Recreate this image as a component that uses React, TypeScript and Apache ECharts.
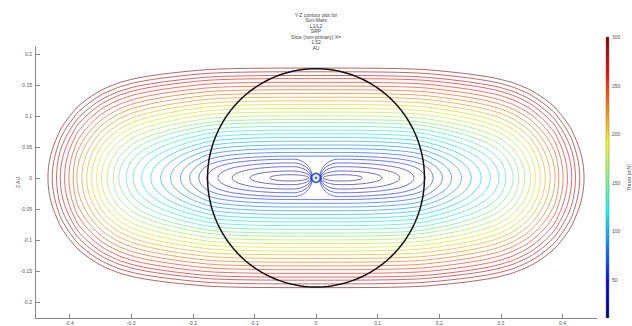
import React, { useEffect, useRef } from "react";
import * as echarts from "echarts";

// ---- text ----
const titleLines = ["Y-Z contour plot for", "Sun-Mars", "L1/L2", "SRP", "Slice (non-primary) X=", "1.52", "AU"];
const yAxisName = "Z AU";
const colorbarName = "Thrust (mN)";

// ---- contour data ----
// contour levels (mN)
const levels = [10, 20, 30, 40, 50, 60, 70, 80, 90, 100, 110, 120, 130, 140, 150, 160, 170, 180, 190, 200, 210, 220, 230, 240, 250, 260, 270, 280, 290, 300];
// |x| where each contour crosses y = 0 on its outer side
const xOuter = [0.075, 0.107, 0.136, 0.159, 0.177, 0.19, 0.205, 0.22, 0.236, 0.252, 0.268, 0.283, 0.297, 0.308, 0.32, 0.329, 0.339, 0.348, 0.356, 0.364, 0.372, 0.38, 0.388, 0.394, 0.401, 0.408, 0.415, 0.421, 0.428, 0.435];
// |x| where the lobe contours cross y = 0 next to the origin (null: contour encloses the origin)
const xInner: (number | null)[] = [0.012, 0.009, 0.008, 0.007, 0.006, null, null, null, null, null, null, null, null, null, null, null, null, null, null, null, null, null, null, null, null, null, null, null, null, null];
// length over which a lobe narrows towards the origin
const lobeTaper = [0.028, 0.03, 0.03, 0.03, 0.03];
// |y| of each contour in its flat middle part
const yMiddle = [0.005, 0.011, 0.018, 0.024, 0.03, 0.035, 0.041, 0.047, 0.053, 0.059, 0.065, 0.071, 0.077, 0.083, 0.089, 0.094, 0.1, 0.106, 0.112, 0.118, 0.124, 0.13, 0.136, 0.142, 0.148, 0.154, 0.16, 0.165, 0.171, 0.177];
// |x| of the lowest thrust (lobe centre)
const lobeCentreX = 0.045;
// black circle radius
const circleRadius = 0.176;

// ---- ticks ----
const xTicks = [-0.4, -0.3, -0.2, -0.1, 0, 0.1, 0.2, 0.3, 0.4];
const yTicks = [-0.2, -0.15, -0.1, -0.05, 0, 0.05, 0.1, 0.15, 0.2];
const cbarTicks = [50, 100, 150, 200, 250, 300];
const cbarMin = 11;
const cbarMax = 300;

const xMin = -0.456, xMax = 0.456, yMin = -0.226, yMax = 0.211;

const jetStops: [number, number[]][] = [
  [0, [0, 0, 0.5]],
  [0.125, [0, 0, 1]],
  [0.375, [0, 1, 1]],
  [0.625, [1, 1, 0]],
  [0.875, [1, 0, 0]],
  [1, [0.5, 0, 0]],
];
function jetRgb(f: number): number[] {
  f = Math.max(0, Math.min(1, f));
  for (let i = 1; i < jetStops.length; i++) {
    const [f1, c1] = jetStops[i];
    const [f0, c0] = jetStops[i - 1];
    if (f <= f1) {
      const t = (f - f0) / (f1 - f0);
      return c0.map((v, k) => 255 * (v + (c1[k] - v) * t));
    }
  }
  return [128, 0, 0];
}
const rgb = (c: number[]) => `rgb(${c.map((v) => Math.round(v)).join(",")})`;
const jet = (f: number) => rgb(jetRgb(f));
// contour lines look slightly muted in the reference
const lineColor = (f: number) => rgb(jetRgb(f).map((v) => v * 0.82 + 18));

function interp(pts: number[][], ax: number): number {
  if (ax <= pts[0][0]) return pts[0][1];
  for (let i = 1; i < pts.length; i++) {
    if (ax <= pts[i][0]) {
      const t = (ax - pts[i - 1][0]) / (pts[i][0] - pts[i - 1][0]);
      return pts[i - 1][1] + (pts[i][1] - pts[i - 1][1]) * t;
    }
  }
  return pts[pts.length - 1][1];
}

const outerProfile = [[0, 0], [lobeCentreX, 0], ...levels.map((L, i) => [xOuter[i], L])];

function buildLoops(i: number): number[][][] {
  const L = levels[i];
  const yc = yMiddle[i];
  const xo = xOuter[i];
  const xi = xInner[i];
  const N = 140;
  const gAt = (ax: number) => {
    let g = interp(outerProfile, ax);
    if (xi != null) {
      const s = (ax - xi) / lobeTaper[i];
      g = Math.max(g, L * Math.max(0, 1 - s));
    }
    return g;
  };
  const yAt = (ax: number) => {
    const g = gAt(ax);
    return yc * Math.sqrt(Math.max(0, 1 - (g / L) * (g / L)));
  };
  if (xi == null) {
    const top: number[][] = [];
    for (let k = 0; k <= N; k++) {
      const x = xo * Math.cos((Math.PI * k) / N);
      top.push([x, yAt(Math.abs(x))]);
    }
    const bottom = top.slice().reverse().map(([x, y]) => [x, -y]);
    return [[...top, ...bottom]];
  }
  const loops: number[][][] = [];
  for (const s of [1, -1]) {
    const top: number[][] = [];
    for (let k = 0; k <= N; k++) {
      const ax = xi + ((xo - xi) * (1 + Math.cos((Math.PI * k) / N))) / 2;
      top.push([s * ax, yAt(ax)]);
    }
    const bottom = top.slice().reverse().map(([x, y]) => [x, -y]);
    loops.push([...top, ...bottom]);
  }
  return loops;
}

const circleAngles = Array.from({ length: 181 }, (_, k) => k * 2);

const fmt = (v: number) => String(Math.round(v * 100) / 100);
const FONT = "Liberation Sans";

export default function App() {
  const ref = useRef<HTMLDivElement>(null);
  useEffect(() => {
    if (!ref.current) return;
    const chart = echarts.init(ref.current, undefined, { renderer: "svg" });
    const contourSeries: any[] = [];
    levels.forEach((L, i) => {
      const color = lineColor((L - cbarMin) / (cbarMax - cbarMin));
      buildLoops(i).forEach((loop) => {
        contourSeries.push({
          type: "line",
          xAxisIndex: 0,
          yAxisIndex: 0,
          data: loop,
          showSymbol: false,
          symbol: "none",
          silent: true,
          lineStyle: { color, width: 0.8, opacity: 0.8 },
          z: 2,
        });
      });
    });
    const circle = {
      type: "line",
      xAxisIndex: 0,
      yAxisIndex: 0,
      data: circleAngles.map((a) => [circleRadius * Math.cos((a * Math.PI) / 180), circleRadius * Math.sin((a * Math.PI) / 180)]),
      showSymbol: false,
      symbol: "none",
      silent: true,
      lineStyle: { color: "#111", width: 1.5 },
      z: 4,
    };
    const origin = {
      type: "scatter",
      xAxisIndex: 0,
      yAxisIndex: 0,
      data: [[0, 0]],
      symbol: "circle",
      symbolSize: 9,
      silent: true,
      itemStyle: { color: "#dfe8f6", borderColor: "#1838b8", borderWidth: 1.8 },
      z: 5,
    };
    const originDot = {
      type: "scatter",
      xAxisIndex: 0,
      yAxisIndex: 0,
      data: [[0, 0]],
      symbol: "circle",
      symbolSize: 2.5,
      silent: true,
      itemStyle: { color: "#2a48b8" },
      z: 6,
    };
    const colorbar = {
      type: "custom",
      xAxisIndex: 1,
      yAxisIndex: 1,
      silent: true,
      data: [[0, cbarMin, cbarMax]],
      renderItem: (params: any, api: any) => {
        const pTop = api.coord([0, cbarMax]);
        const pBot = api.coord([0, cbarMin]);
        const w = api.size([1, 0])[0];
        return {
          type: "rect",
          shape: { x: pTop[0] - w / 2, y: pTop[1], width: w, height: pBot[1] - pTop[1] },
          style: {
            fill: {
              type: "linear",
              x: 0,
              y: 0,
              x2: 0,
              y2: 1,
              colorStops: jetStops.map(([f]) => ({ offset: 1 - f, color: jet(f) })).reverse(),
            },
            stroke: "#777",
            lineWidth: 0.5,
          },
        };
      },
    };
    const axisGrey = "#888";
    chart.setOption({
      animation: false,
      backgroundColor: "#fff",
      title: {
        text: titleLines.join("\n"),
        left: "center",
        top: 7,
        textStyle: { fontSize: 5, lineHeight: 5.5, fontWeight: "normal", color: "#444", fontFamily: FONT },
      },
      grid: [
        { left: 35, right: 35, top: 47, bottom: 8 },
        { left: 606, width: 10, top: 37, bottom: 8 },
      ],
      xAxis: [
        {
          type: "value",
          gridIndex: 0,
          min: xMin,
          max: xMax,
          axisLine: { onZero: false, lineStyle: { color: axisGrey, width: 1 } },
          axisTick: { inside: true, length: 4, customValues: xTicks, lineStyle: { color: axisGrey } },
          axisLabel: { customValues: xTicks, formatter: fmt, fontSize: 5, color: "#555", margin: 2, fontFamily: FONT },
          splitLine: { show: false },
        },
        {
          type: "category",
          gridIndex: 1,
          data: ["c"],
          show: false,
        },
      ],
      yAxis: [
        {
          type: "value",
          gridIndex: 0,
          min: yMin,
          max: yMax,
          name: yAxisName,
          nameLocation: "middle",
          nameGap: 15,
          nameMoveOverlap: false,
          nameTextStyle: { fontSize: 5, color: "#555", fontFamily: FONT },
          axisLine: { show: true, onZero: false, lineStyle: { color: axisGrey, width: 1 } },
          axisTick: { show: true, inside: true, length: 5, customValues: yTicks, lineStyle: { color: axisGrey } },
          axisLabel: { customValues: yTicks, formatter: fmt, fontSize: 5, color: "#555", margin: 3, fontFamily: FONT },
          splitLine: { show: false },
        },
        {
          type: "value",
          gridIndex: 1,
          position: "right",
          min: cbarMin,
          max: cbarMax,
          name: colorbarName,
          nameLocation: "middle",
          nameGap: 17,
          nameMoveOverlap: false,
          nameTextStyle: { fontSize: 5, color: "#555", fontFamily: FONT },
          axisLine: { show: false },
          axisTick: { show: true, inside: true, length: 2, customValues: cbarTicks, lineStyle: { color: "#444" } },
          axisLabel: { customValues: cbarTicks, fontSize: 5, color: "#555", margin: 3, fontFamily: FONT },
          splitLine: { show: false },
        },
      ],
      series: [...contourSeries, circle, origin, originDot, colorbar],
    });
    return () => chart.dispose();
  }, []);
  return <div ref={ref} style={{ position: "fixed", left: 0, top: 0, width: 632, height: 326 }} />;
}
